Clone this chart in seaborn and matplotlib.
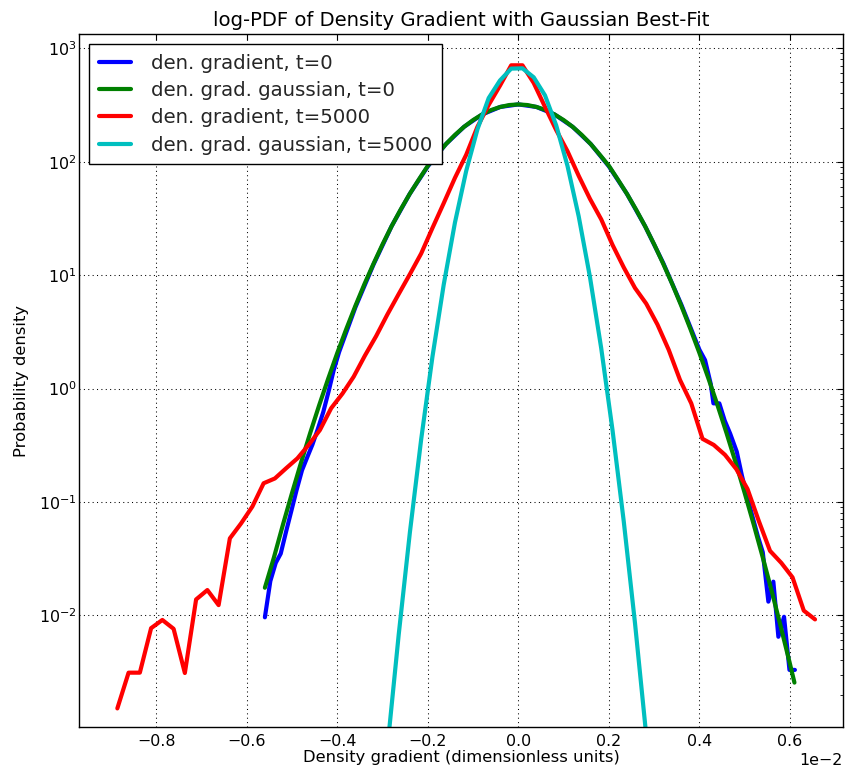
import numpy as np
import matplotlib
matplotlib.use("Agg")
import matplotlib.pyplot as plt
import matplotlib.ticker as mticker
import seaborn as sns

# Gradients below are written in units of 1e-2 (the axis carries the 1e-2 offset).
X_UNIT = 1e-2

# --- t=0: measured density-gradient PDF (x, pdf) ---
grad0_x = [-0.560, -0.548, -0.536, -0.525, -0.513, -0.501, -0.490, -0.478, -0.466,
           -0.455, -0.443, -0.431, -0.419, -0.408, -0.396, -0.36, -0.32, -0.28,
           -0.24, -0.20, -0.16, -0.12, -0.08, -0.04, 0.00, 0.04, 0.08, 0.12, 0.16,
           0.20, 0.24, 0.28, 0.32, 0.36, 0.40, 0.4125, 0.425, 0.431, 0.444, 0.456,
           0.468, 0.4826, 0.494, 0.506, 0.517, 0.529, 0.540, 0.5524, 0.5634,
           0.5745, 0.587, 0.599, 0.611]
grad0_pdf = [0.0096, 0.020, 0.029, 0.035, 0.055, 0.085, 0.127, 0.19, 0.25,
             0.32, 0.44, 0.62, 0.95, 1.45, 2.1, 5.2, 12.4, 27.0,
             52.0, 91.0, 143.0, 203.0, 261.0, 304.0, 320.0, 304.0, 261.0, 203.0, 143.0,
             91.0, 52.0, 27.0, 12.8, 5.5, 2.2, 1.78, 1.1, 0.74, 0.74, 0.52,
             0.40, 0.277, 0.17, 0.11, 0.075, 0.05, 0.036, 0.0132, 0.0198,
             0.00647, 0.0097, 0.0033, 0.0033]

# --- t=0: Gaussian best fit (x, pdf) ---
fit0_x = [-0.56, -0.54, -0.52, -0.50, -0.48, -0.46, -0.44, -0.42, -0.40, -0.38,
          -0.36, -0.34, -0.32, -0.30, -0.28, -0.26, -0.24, -0.22, -0.20, -0.18,
          -0.16, -0.14, -0.12, -0.10, -0.08, -0.06, -0.04, -0.02, 0.00, 0.02,
          0.04, 0.06, 0.08, 0.10, 0.12, 0.14, 0.16, 0.18, 0.20, 0.22, 0.24,
          0.26, 0.28, 0.30, 0.32, 0.34, 0.36, 0.38, 0.40, 0.42, 0.44, 0.46,
          0.48, 0.50, 0.52, 0.54, 0.56, 0.58, 0.60, 0.61]
fit0_pdf = [0.0175, 0.0324, 0.0632, 0.120, 0.223, 0.404, 0.713, 1.225, 2.06, 3.36,
            5.36, 8.34, 12.6, 18.7, 27.0, 37.9, 52.0, 69.5, 92.0, 115.1,
            143.0, 172.4, 203.0, 233.0, 261.0, 285.6, 304.0, 316.0, 320.0, 316.0,
            304.0, 285.6, 261.0, 233.0, 203.0, 172.4, 143.0, 115.1, 92.0, 69.5, 52.0,
            37.9, 27.0, 18.7, 12.6, 8.34, 5.36, 3.36, 2.06, 1.225, 0.713, 0.404,
            0.223, 0.120, 0.0632, 0.0324, 0.0162, 0.00787, 0.00374, 0.00255]

# --- t=5000: histogram bin centres and measured PDF ---
bins5000_first, bins5000_last, bins5000_count = -0.886, 0.6555, 63
grad5000_pdf = [0.00151, 0.00312, 0.00312, 0.0077, 0.0091, 0.0076, 0.0031, 0.0138,
                0.0167, 0.0123, 0.0477, 0.0647, 0.091, 0.146, 0.161, 0.198, 0.242,
                0.318, 0.43, 0.67, 0.90, 1.27, 1.95, 2.9, 4.5, 6.8, 10.2, 15.5,
                26.0, 43.0, 72.0, 115.0, 203.0, 317.0, 468.0, 708.0, 708.0, 495.0,
                305.0, 190.0, 124.0, 75.0, 47.0, 31.0, 18.5, 11.7, 7.7, 5.6, 3.66,
                2.19, 1.19, 0.74, 0.36, 0.318, 0.26, 0.195, 0.13, 0.068, 0.037,
                0.029, 0.0216, 0.011, 0.0092]

# --- t=5000: Gaussian best fit, evaluated on bins 23..48 ---
fit5000_first_bin = 23
fit5000_pdf = [5.5e-5, 6.8e-4, 6.7e-3, 0.0542, 0.356, 1.90, 8.2, 29.0, 82.8, 193.0,
               364.0, 520.0, 662.0, 666.0, 555.0, 385.0, 209.0, 92.0, 32.9, 9.6,
               2.26, 0.432, 0.0676, 8.55e-3, 8.75e-4, 6.0e-5]

# x tick positions (in units of 1e-2)
x_ticks = [-0.8, -0.6, -0.4, -0.2, 0.0, 0.2, 0.4, 0.6]

labels = ["den. gradient, t=0", "den. grad. gaussian, t=0",
          "den. gradient, t=5000", "den. grad. gaussian, t=5000"]
colors = ["#0000ff", "#008000", "#ff0000", "#00bfbf"]


class FixedOrderFormatter(mticker.ScalarFormatter):
    """Scalar formatter with a fixed power-of-ten offset."""

    def __init__(self, order):
        self._fixed_order = order
        super().__init__(useOffset=False, useMathText=False)

    def _set_order_of_magnitude(self):
        self.orderOfMagnitude = self._fixed_order


sns.set_theme(style="white")
plt.rcParams["font.family"] = ["DejaVu Sans"]
plt.rcParams["axes.unicode_minus"] = True
plt.rcParams["mathtext.default"] = "regular"

bins5000 = np.linspace(bins5000_first, bins5000_last, bins5000_count)
fit5000_x = bins5000[fit5000_first_bin:fit5000_first_bin + len(fit5000_pdf)]

series = [
    (np.asarray(grad0_x), grad0_pdf),
    (np.asarray(fit0_x), fit0_pdf),
    (bins5000, grad5000_pdf),
    (fit5000_x, fit5000_pdf),
]

fig = plt.figure(figsize=(8.49, 7.73), dpi=100)
ax = fig.add_axes([0.0931, 0.0595, 0.8999, 0.8965])
ax.set_yscale("log")

for (xs, ys), lab, col in zip(series, labels, colors):
    sns.lineplot(x=xs * X_UNIT, y=ys, ax=ax, color=col, linewidth=3,
                 label=lab, estimator=None, sort=False)

ax.set_xlim(-0.9706 * X_UNIT, 0.7174 * X_UNIT)
ax.set_ylim(10 ** -2.985, 10 ** 3.126)

ax.xaxis.set_major_locator(mticker.FixedLocator(np.asarray(x_ticks) * X_UNIT))
ax.xaxis.set_major_formatter(FixedOrderFormatter(-2))

ax.grid(True, which="major", linestyle=(0, (1, 3.2)), color="black",
        linewidth=0.75)
for sp in ax.spines.values():
    sp.set_color("black")
    sp.set_linewidth(1.0)

ax.tick_params(which="both", direction="in", top=True, right=True,
               color="black", labelcolor="black", labelsize=11.4)
ax.tick_params(which="major", length=4.5, width=0.8)
ax.tick_params(axis="y", which="major", pad=2)
ax.tick_params(axis="x", which="major", pad=5)
ax.tick_params(which="minor", length=2.5, width=0.6)
ax.xaxis.get_offset_text().set_fontsize(11.4)

ax.set_title("log-PDF of Density Gradient with Gaussian Best-Fit",
             fontsize=14.1, pad=6, color="black")
ax.set_xlabel("Density gradient (dimensionless units)", fontsize=11.8,
              color="black", labelpad=1)
ax.set_ylabel("Probability density", fontsize=11.8, color="black", labelpad=7)

leg = ax.legend(loc="upper left", fontsize=14.2, frameon=True, fancybox=False,
                edgecolor="black", framealpha=1, handlelength=1.65,
                handletextpad=1.0, labelspacing=0.42, borderpad=0.5,
                borderaxespad=0.5)
leg.get_frame().set_linewidth(1.0)

fig.savefig("out.png", dpi=100)
